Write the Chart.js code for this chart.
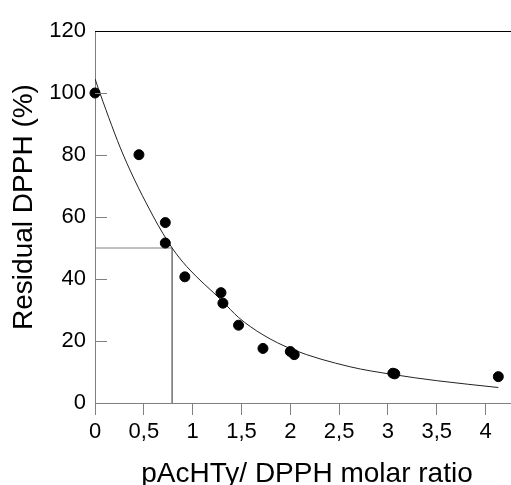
<!DOCTYPE html>
<html>
<head>
<meta charset="utf-8">
<style>
  body { margin: 0; background: #fff; }
  canvas { display: block; }
</style>
</head>
<body>
<canvas id="chart" width="511" height="485"></canvas>
<script src="https://cdn.jsdelivr.net/npm/chart.js"></script>
<script>
    // 측정값 (molar ratio / residual DPPH %)
    const ratioX = [0, 0.45, 0.72, 0.72, 0.92, 1.29, 1.31, 1.47, 1.72, 2.0, 2.04, 3.05, 3.07, 4.13];
    const residual = [100, 80.1, 58.2, 51.6, 40.7, 35.6, 32.2, 25.1, 17.6, 16.6, 15.6, 9.6, 9.4, 8.5];

    // 그림에서 읽은 곡선
    const fitX = [0, 0.05, 0.29, 0.6, 0.79, 0.94, 1.3, 1.47, 1.72, 2.02, 2.61, 3.05, 3.5, 4.13];
    const fitY = [104.6, 100, 80, 60, 50, 44, 33, 27.6, 22.0, 17.3, 11.7, 9.2, 7.2, 5.0];

    // EC50 보조선
    const refX = [0, 0.79, 0.79];
    const refY = [50, 50, 0];

    const xTicks = [0, 0.5, 1, 1.5, 2, 2.5, 3, 3.5, 4];
    const yTicks = [0, 20, 40, 60, 80, 100, 120];

    const xTitle = 'pAcHTy/ DPPH molar ratio';
    const yTitle = 'Residual DPPH (%)';

    const FONT = '"Liberation Sans", Arial, sans-serif';
    const GREY = '#808080';

    function pairs(xs, ys) {
        return xs.map(function(x, i) { return {x: x, y: ys[i]}; });
    }

    // 안쪽 눈금, 위쪽 테두리, 축 제목
    const extras = {
        id: 'extras',
        afterDraw: function(chart) {
            const c = chart.ctx;
            const a = chart.chartArea;
            const ys = chart.scales.y;
            c.save();
            c.strokeStyle = GREY;
            c.lineWidth = 1;
            yTicks.forEach(function(v) {
                const py = Math.round(ys.getPixelForValue(v)) + 0.5;
                c.beginPath();
                c.moveTo(a.left, py);
                c.lineTo(a.left + 12, py);
                c.stroke();
            });
            c.strokeStyle = '#000';
            c.beginPath();
            c.moveTo(a.left, a.top + 0.5);
            c.lineTo(a.right, a.top + 0.5);
            c.stroke();

            c.fillStyle = '#000';
            c.font = '28px ' + FONT;
            c.textAlign = 'center';
            c.textBaseline = 'alphabetic';
            c.fillText(xTitle, 307, 482);
            c.translate(32, 207);
            c.rotate(-Math.PI / 2);
            c.fillText(yTitle, 0, 0);
            c.restore();
        }
    };

    new Chart(document.getElementById('chart'), {
        type: 'scatter',
        data: {
            datasets: [{
                data: pairs(ratioX, residual),
                backgroundColor: '#000',
                borderColor: '#000',
                pointRadius: 5,
                clip: false,
                order: 0
            }, {
                data: pairs(fitX, fitY),
                showLine: true,
                borderColor: '#222',
                borderWidth: 1,
                pointRadius: 0,
                cubicInterpolationMode: 'monotone',
                order: 1
            }, {
                data: pairs(refX, refY),
                showLine: true,
                borderColor: GREY,
                borderWidth: 1,
                pointRadius: 0,
                order: 2
            }]
        },
        options: {
            responsive: false,
            animation: false,
            devicePixelRatio: 1,
            layout: { autoPadding: false, padding: { top: 31, left: 0, right: 0, bottom: 0 } },
            plugins: {
                legend: { display: false },
                tooltip: { enabled: false }
            },
            scales: {
                x: {
                    type: 'linear',
                    min: 0,
                    max: 4.26,
                    afterFit: function(s) { s.height = 82; },
                    afterBuildTicks: function(s) {
                        s.ticks = xTicks.map(function(v) { return {value: v}; });
                    },
                    grid: { drawOnChartArea: false, drawTicks: true, tickLength: 12, color: GREY },
                    border: { color: GREY, width: 1 },
                    ticks: {
                        padding: 4,
                        color: '#000',
                        font: { family: FONT, size: 22 },
                        maxRotation: 0,
                        callback: function(v) { return String(v).replace('.', ','); }
                    }
                },
                y: {
                    min: 0,
                    max: 120,
                    afterFit: function(s) { s.width = 95; },
                    afterBuildTicks: function(s) {
                        s.ticks = yTicks.map(function(v) { return {value: v}; });
                    },
                    grid: { drawOnChartArea: false, drawTicks: false },
                    border: { color: GREY, width: 1 },
                    ticks: {
                        padding: 9,
                        color: '#000',
                        font: { family: FONT, size: 22 }
                    }
                }
            }
        },
        plugins: [extras]
    });
</script>
</body>
</html>
